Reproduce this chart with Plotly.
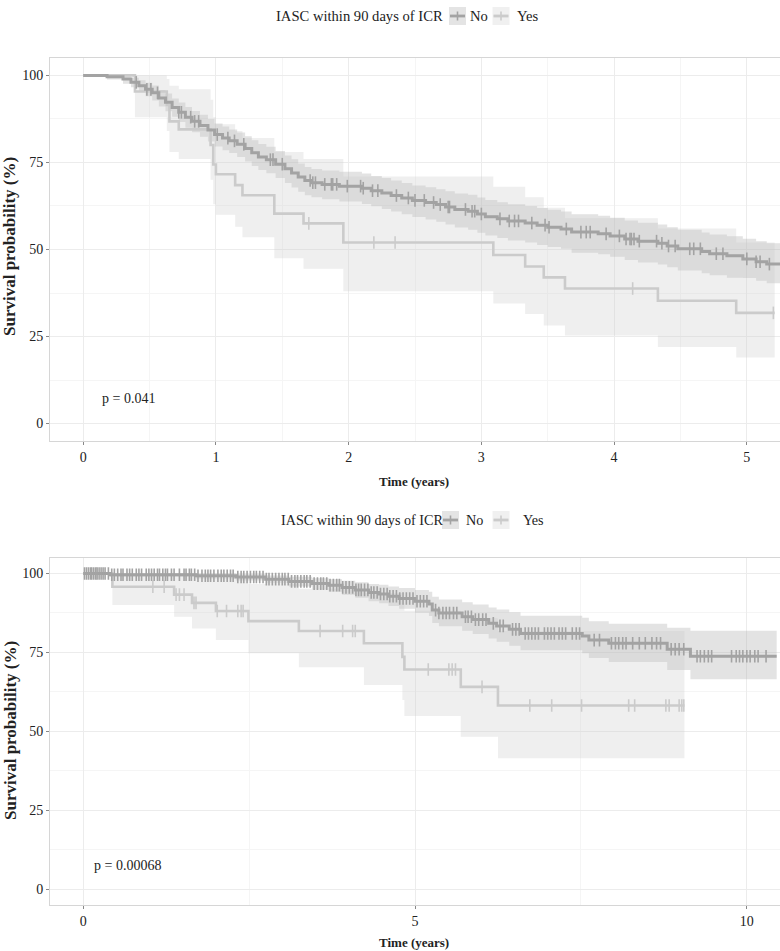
import numpy as np
import plotly.graph_objects as go

# ---------------- Panel A (top, 0-5 years) ----------------
a_no_t = [0, 0.18, 0.30, 0.36, 0.42, 0.47, 0.52, 0.57, 0.62, 0.67, 0.72, 0.77, 0.82, 0.88, 0.94, 0.99,
          1.05, 1.10, 1.16, 1.22, 1.27, 1.32, 1.38, 1.45, 1.52, 1.57, 1.62, 1.67, 1.72, 1.80, 1.93,
          2.10, 2.17, 2.25, 2.32, 2.40, 2.48, 2.58, 2.66, 2.73, 2.80, 2.90, 2.97, 3.03, 3.12, 3.20,
          3.33, 3.42, 3.50, 3.60, 3.68, 3.88, 3.97, 4.08, 4.18, 4.33, 4.40, 4.48, 4.66, 4.72, 4.85,
          4.97, 5.07, 5.15]
a_no_s = [100, 99.6, 99.0, 98.0, 97.0, 96.0, 95.0, 93.5, 92.3, 90.8, 89.4, 88.0, 86.8, 85.6, 84.3, 83.0,
          82.0, 81.2, 80.2, 79.0, 77.8, 76.6, 75.8, 74.5, 73.2, 72.0, 70.8, 69.8, 69.2, 68.7, 68.2,
          67.6, 66.9, 66.2, 65.5, 64.8, 64.1, 63.5, 62.9, 62.2, 61.5, 61.0, 60.2, 59.4, 58.8, 58.2,
          57.6, 57.0, 56.4, 55.9, 55.0, 54.5, 53.9, 53.0, 52.4, 51.8, 51.0, 50.2, 49.4, 48.8, 48.2,
          47.3, 46.5, 45.8]
a_no_up = [100, 100, 100, 99.3, 98.6, 97.9, 97.1, 95.8, 94.8, 93.4, 92.2, 90.9, 89.8, 88.7, 87.5, 86.2,
           85.3, 84.5, 83.6, 82.5, 81.4, 80.3, 79.5, 78.3, 77.0, 75.9, 74.7, 73.7, 73.1, 72.7, 72.3,
           71.8, 71.1, 70.5, 69.8, 69.1, 68.4, 67.9, 67.3, 66.7, 66.1, 65.7, 64.9, 64.2, 63.6, 63.0,
           62.5, 61.9, 61.4, 60.9, 60.1, 59.7, 59.1, 58.3, 57.7, 57.2, 56.4, 55.7, 54.9, 54.3, 53.8,
           53.1, 52.4, 51.8]
a_no_lo = [100, 98.8, 97.6, 96.6, 95.3, 94.0, 92.8, 91.1, 89.7, 88.1, 86.6, 85.0, 83.7, 82.4, 81.0, 79.6,
           78.5, 77.7, 76.6, 75.3, 74.0, 72.8, 71.9, 70.5, 69.1, 67.8, 66.6, 65.6, 65.0, 64.4, 63.8,
           63.1, 62.4, 61.6, 60.9, 60.1, 59.3, 58.6, 58.0, 57.2, 56.3, 55.7, 54.8, 54.0, 53.3, 52.6,
           52.0, 51.3, 50.7, 50.2, 49.1, 48.6, 47.9, 47.0, 46.3, 45.7, 44.9, 44.0, 43.2, 42.6, 41.9,
           41.8, 41.0, 40.3]
a_no_end = 5.30
a_no_cens = [0.40, 0.48, 0.51, 0.56, 0.72, 0.74, 0.81, 0.84, 0.87, 1.01, 1.09, 1.14, 1.21, 1.41, 1.43,
             1.50, 1.71, 1.73, 1.75, 1.82, 1.87, 1.88, 1.91, 1.99, 2.09, 2.11, 2.18, 2.22, 2.36, 2.45,
             2.50, 2.57, 2.64, 2.69, 2.75, 2.76, 2.88, 2.93, 2.95, 3.00, 3.14, 3.21, 3.25, 3.28, 3.38,
             3.48, 3.51, 3.64, 3.75, 3.79, 3.82, 3.94, 4.04, 4.09, 4.12, 4.13, 4.15, 4.19, 4.32, 4.36,
             4.41, 4.46, 4.57, 4.60, 4.65, 4.77, 4.82, 5.00, 5.07, 5.10, 5.17]

a_yes_t = [0, 0.39, 0.63, 0.65, 0.72, 0.96, 0.98, 1.00, 1.145, 1.20, 1.44, 1.66, 1.96, 3.09, 3.33, 3.47,
           3.63, 4.33, 4.92]
a_yes_s = [100, 95.4, 91.5, 86.8, 84.5, 80.0, 74.4, 71.6, 68.5, 65.6, 60.3, 57.5, 52.0, 48.4, 45.1, 42.0,
           38.8, 35.3, 31.8]
a_yes_up = [100, 100, 99, 97, 96, 93, 88, 86, 84, 82, 78, 76, 71, 68, 65, 62, 59, 56, 52]
a_yes_lo = [100, 88, 84, 78, 76, 70, 63, 60, 56.5, 53.5, 47.5, 44.5, 38, 34.5, 31.5, 28.2, 25.3, 22, 19]
a_yes_end = 5.21
a_yes_cens = [1.70, 2.19, 2.35, 4.14, 5.20]
a_pval = "p = 0.041"

# ---------------- Panel B (bottom, 0-10 years) ----------------
b_no_t = [0, 0.40, 1.70, 2.30, 2.75, 3.10, 3.45, 3.70, 3.90, 4.10, 4.30, 4.46, 4.60, 4.76, 5.00, 5.21,
          5.26, 5.36, 5.71, 5.87, 6.11, 6.23, 6.42, 6.59, 7.52, 7.62, 7.92, 8.80, 9.15]
b_no_s = [100, 99.6, 99.3, 98.9, 98.2, 97.5, 96.8, 96.3, 95.6, 94.8, 94.0, 93.5, 92.8, 92.1, 91.2, 90.3,
          88.4, 87.5, 86.3, 85.4, 84.2, 83.4, 82.3, 81.0, 80.2, 78.9, 77.9, 76.0, 73.8]
b_no_up = [100, 100, 100, 99.8, 99.4, 99.0, 98.5, 98.2, 97.7, 97.2, 96.7, 96.4, 95.9, 95.4, 94.8, 94.2,
           92.6, 91.8, 90.9, 90.2, 89.2, 88.6, 87.7, 86.6, 86.0, 84.9, 84.1, 82.8, 81.9]
b_no_lo = [100, 99.0, 98.4, 97.8, 96.8, 95.9, 94.9, 94.2, 93.3, 92.3, 91.2, 90.6, 89.7, 88.8, 87.6, 86.5,
           84.3, 83.3, 81.9, 80.8, 79.4, 78.4, 77.1, 75.7, 74.7, 73.2, 72.0, 69.4, 66.5]
b_no_end = 10.45
b_no_cens = [0.02, 0.05, 0.08, 0.11, 0.13, 0.16, 0.19, 0.21, 0.24, 0.27, 0.30, 0.33, 0.38, 0.43, 0.47,
             0.52, 0.57, 0.60, 0.66, 0.70, 0.74, 0.80, 0.84, 0.88, 0.95, 0.99, 1.03, 1.07, 1.12, 1.15,
             1.20, 1.24, 1.27, 1.33, 1.37, 1.45, 1.52, 1.55, 1.60, 1.63, 1.68, 1.73, 1.79, 1.84, 1.88,
             1.92, 1.97, 2.03, 2.08, 2.12, 2.17, 2.22, 2.26, 2.33, 2.38, 2.42, 2.47, 2.52, 2.57, 2.61,
             2.66, 2.71, 2.76, 2.80, 2.85, 2.90, 2.95, 3.00, 3.04, 3.09, 3.14, 3.19, 3.23, 3.28, 3.33,
             3.37, 3.42, 3.48, 3.53, 3.58, 3.62, 3.67, 3.72, 3.77, 3.82, 3.86, 3.91, 3.96, 4.01, 4.06,
             4.11, 4.15, 4.19, 4.24, 4.29, 4.34, 4.38, 4.43, 4.48, 4.53, 4.58, 4.62, 4.67, 4.72, 4.77,
             4.82, 4.87, 4.92, 4.97, 5.03, 5.08, 5.13, 5.18, 5.31, 5.36, 5.42, 5.47, 5.52, 5.58, 5.63,
             5.76, 5.80, 5.85, 5.91, 5.96, 6.02, 6.07, 6.18, 6.28, 6.33, 6.47, 6.52, 6.57, 6.66, 6.71,
             6.76, 6.81, 6.86, 6.95, 7.00, 7.05, 7.10, 7.17, 7.22, 7.27, 7.37, 7.43, 7.48, 7.70, 7.78,
             7.96, 8.02, 8.07, 8.13, 8.18, 8.28, 8.38, 8.47, 8.57, 8.64, 8.70, 8.86, 8.92, 8.98, 9.05,
             9.25, 9.30, 9.36, 9.42, 9.47, 9.77, 9.84, 9.89, 9.94, 10.00, 10.05, 10.12, 10.17, 10.29]

b_yes_t = [0, 0.44, 1.37, 1.64, 2.00, 2.49, 3.25, 4.23, 4.81, 4.84, 5.69, 6.25]
b_yes_s = [100, 95.8, 93.3, 90.7, 88.1, 84.9, 81.8, 77.9, 73.6, 69.6, 64.1, 58.2]
b_yes_up = [100, 100, 100, 99.5, 98.5, 96.7, 95.2, 93.8, 90.4, 88.2, 85.8, 81.8]
b_yes_lo = [100, 90.0, 86.3, 82.6, 78.9, 74.7, 70.3, 64.7, 59.9, 54.9, 48.3, 41.5]
b_yes_end = 9.06
b_yes_cens = [1.05, 1.22, 1.40, 1.45, 1.52, 1.67, 1.70, 2.02, 2.16, 2.33, 2.38, 2.41, 3.57, 3.91, 4.06,
              4.10, 5.20, 5.51, 5.56, 5.61, 6.01, 6.73, 7.06, 7.51, 8.22, 8.31, 8.78, 8.83, 8.98, 9.02, 9.05]
b_pval = "p = 0.00068"

legend_title = "IASC within 90 days of ICR"
group_names = ["No", "Yes"]

# ---------------- styling ----------------
FONT = "Liberation Serif"
NO_LINE = "#a3a3a3"
YES_LINE = "#cbcbcb"
NO_FILL = "rgba(163,163,163,0.30)"
YES_FILL = "rgba(203,203,203,0.30)"
W, H = 780, 951
ML = 50
PW = W - ML


def px_x(px):
    return (px - ML) / PW


def px_y(py):
    return 1 - py / H


def step_xy(t, s, end):
    return list(t) + [end], list(s) + [s[-1]]


def at_times(t, s, ct):
    idx = np.searchsorted(np.array(t), np.array(ct), side="right") - 1
    return [s[i] for i in idx]


fig = go.Figure()


def add_band(t, up, lo, end, fill_col, xa, ya):
    x, yu = step_xy(t, up, end)
    _, yl = step_xy(t, lo, end)
    fig.add_trace(go.Scatter(x=x, y=yu, mode="lines", line=dict(width=0, shape="hv", color=fill_col),
                             xaxis=xa, yaxis=ya, showlegend=False, hoverinfo="skip"))
    fig.add_trace(go.Scatter(x=x, y=yl, mode="lines", line=dict(width=0, shape="hv", color=fill_col),
                             fill="tonexty", fillcolor=fill_col,
                             xaxis=xa, yaxis=ya, showlegend=False, hoverinfo="skip"))


def add_line(t, s, end, cens, line_col, xa, ya, lw, name):
    x, y = step_xy(t, s, end)
    fig.add_trace(go.Scatter(x=x, y=y, mode="lines", line=dict(width=lw, shape="hv", color=line_col),
                             xaxis=xa, yaxis=ya, showlegend=False, name=name))
    fig.add_trace(go.Scatter(x=cens, y=at_times(t, s, cens), mode="markers",
                             marker=dict(symbol="line-ns-open", size=9, color=line_col,
                                         line=dict(width=1.6, color=line_col)),
                             xaxis=xa, yaxis=ya, showlegend=False, hoverinfo="skip"))


# Panel A
add_band(a_no_t, a_no_up, a_no_lo, a_no_end, NO_FILL, "x", "y")
add_band(a_yes_t, a_yes_up, a_yes_lo, a_yes_end, YES_FILL, "x", "y")
add_line(a_yes_t, a_yes_s, a_yes_end, a_yes_cens, YES_LINE, "x", "y", 2.6, "Yes")
add_line(a_no_t, a_no_s, a_no_end, a_no_cens, NO_LINE, "x", "y", 3, "No")
# Panel B
add_band(b_no_t, b_no_up, b_no_lo, b_no_end, NO_FILL, "x2", "y2")
add_band(b_yes_t, b_yes_up, b_yes_lo, b_yes_end, YES_FILL, "x2", "y2")
add_line(b_yes_t, b_yes_s, b_yes_end, b_yes_cens, YES_LINE, "x2", "y2", 2.6, "Yes")
add_line(b_no_t, b_no_s, b_no_end, b_no_cens, NO_LINE, "x2", "y2", 3, "No")

GRID = "#ececec"
MINOR = "#f5f5f5"
BORDER = "#d6d6d6"
TICKFONT = dict(family=FONT, size=14, color="#222")

common_axis = dict(showgrid=True, gridcolor=GRID, gridwidth=1, zeroline=False,
                   showline=True, linecolor=BORDER, linewidth=1, mirror=True,
                   ticks="outside", ticklen=3, tickcolor="#888", tickwidth=1,
                   tickfont=TICKFONT, fixedrange=True)

fig.update_layout(
    width=W, height=H, margin=dict(l=ML, r=0, t=0, b=0),
    paper_bgcolor="white", plot_bgcolor="white", showlegend=False,
    font=dict(family=FONT, size=14, color="#222"),
    xaxis=dict(domain=[0, 1], anchor="y", range=[-0.25, 5.25], tickvals=[0, 1, 2, 3, 4, 5],
               minor=dict(showgrid=True, gridcolor=MINOR, tickvals=[0.5, 1.5, 2.5, 3.5, 4.5], ticks=""),
               **common_axis),
    yaxis=dict(domain=[px_y(441), px_y(58)], anchor="x", range=[-5, 105], tickvals=[0, 25, 50, 75, 100],
               minor=dict(showgrid=True, gridcolor=MINOR, tickvals=[12.5, 37.5, 62.5, 87.5], ticks=""),
               **common_axis),
    xaxis2=dict(domain=[0, 1], anchor="y2", range=[-0.5, 10.5], tickvals=[0, 5, 10],
                minor=dict(showgrid=True, gridcolor=MINOR, tickvals=[2.5, 7.5], ticks=""),
                **common_axis),
    yaxis2=dict(domain=[px_y(905), px_y(557.7)], anchor="x2", range=[-5, 105], tickvals=[0, 25, 50, 75, 100],
                minor=dict(showgrid=True, gridcolor=MINOR, tickvals=[12.5, 37.5, 62.5, 87.5], ticks=""),
                **common_axis),
)

ann = []
TXT = dict(family=FONT, size=14, color="#222")
BTXT = dict(family=FONT, size=13, color="#222", weight="bold")
YTXT = dict(family=FONT, size=17, color="#222", weight="bold")
# p-values
ann.append(dict(x=0.13, y=7.2, xref="x", yref="y", text=a_pval, showarrow=False, xanchor="left",
                yanchor="middle", font=TXT))
ann.append(dict(x=0.14, y=7.4, xref="x2", yref="y2", text=b_pval, showarrow=False, xanchor="left",
                yanchor="middle", font=TXT))
# axis titles
for yc in [247, 731]:
    ann.append(dict(x=px_x(10), y=px_y(yc), xref="paper", yref="paper", text="Survival probability (%)",
                    textangle=-90, showarrow=False, xanchor="center", yanchor="middle", font=YTXT))
for yc in [482, 942]:
    ann.append(dict(x=px_x(414), y=px_y(yc), xref="paper", yref="paper", text="Time (years)",
                    showarrow=False, xanchor="center", yanchor="middle", font=BTXT))

shapes = []


def legend(yc, title_x, size, key_xs, text_xs):
    lt = dict(family=FONT, size=size, color="#222")
    ann.append(dict(x=px_x(title_x), y=px_y(yc), xref="paper", yref="paper", text=legend_title,
                    showarrow=False, xanchor="left", yanchor="middle", font=lt))
    cols = [(NO_LINE, "#e4e4e4"), (YES_LINE, "#f0f0f0")]
    for (lc, fc), kx, tx, name in zip(cols, key_xs, text_xs, group_names):
        shapes.append(dict(type="rect", xref="paper", yref="paper", x0=px_x(kx), x1=px_x(kx + 17),
                           y0=px_y(yc + 9), y1=px_y(yc - 9), fillcolor=fc, line=dict(width=0)))
        shapes.append(dict(type="line", xref="paper", yref="paper", x0=px_x(kx + 1), x1=px_x(kx + 16),
                           y0=px_y(yc), y1=px_y(yc), line=dict(color=lc, width=2.8)))
        shapes.append(dict(type="line", xref="paper", yref="paper", x0=px_x(kx + 8.5), x1=px_x(kx + 8.5),
                           y0=px_y(yc + 4.5), y1=px_y(yc - 4.5), line=dict(color=lc, width=1.6)))
        ann.append(dict(x=px_x(tx), y=px_y(yc), xref="paper", yref="paper", text=name,
                        showarrow=False, xanchor="left", yanchor="middle", font=lt))


legend(16, 274, 14.6, [449, 492.5], [468, 515])
legend(520, 279, 14.2, [442, 492.5], [464, 521])

fig.update_layout(annotations=ann, shapes=shapes)
fig.write_html("out.html", config={"displayModeBar": False},
               post_script="document.body.style.margin='0';")
